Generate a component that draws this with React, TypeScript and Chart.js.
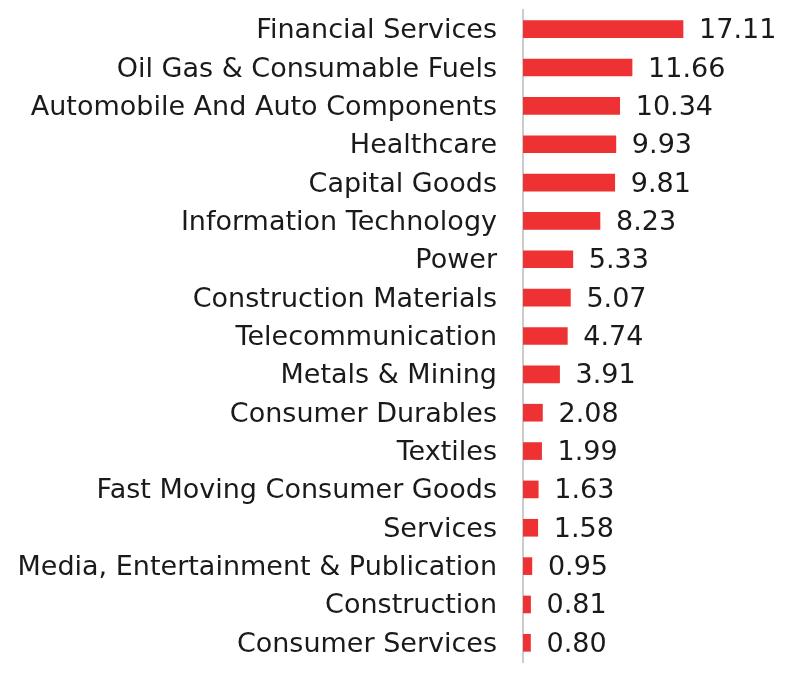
import React, { useEffect, useRef } from "react";
import { Chart, registerables } from "chart.js";

Chart.register(...registerables);

const categories = [
  "Financial Services",
  "Oil Gas & Consumable Fuels",
  "Automobile And Auto Components",
  "Healthcare",
  "Capital Goods",
  "Information Technology",
  "Power",
  "Construction Materials",
  "Telecommunication",
  "Metals & Mining",
  "Consumer Durables",
  "Textiles",
  "Fast Moving Consumer Goods",
  "Services",
  "Media, Entertainment & Publication",
  "Construction",
  "Consumer Services",
];

const values = [17.11, 11.66, 10.34, 9.93, 9.81, 8.23, 5.33, 5.07, 4.74, 3.91, 2.08, 1.99, 1.63, 1.58, 0.95, 0.81, 0.8];

const FONT = "'DejaVu Sans', sans-serif";

const valueLabels = {
  id: "valueLabels",
  afterDatasetsDraw(chart: any) {
    const ctx = chart.ctx;
    const meta = chart.getDatasetMeta(0);
    ctx.save();
    ctx.font = `27px ${FONT}`;
    ctx.fillStyle = "#1a1a1a";
    ctx.textAlign = "left";
    ctx.textBaseline = "middle";
    meta.data.forEach((bar: any, i: number) => {
      ctx.fillText(values[i].toFixed(2), bar.x + 16, bar.y + 2);
    });
    ctx.restore();
  },
};

export default function App() {
  const ref = useRef<HTMLCanvasElement>(null);
  useEffect(() => {
    document.body.style.margin = "0";
    const chart = new Chart(ref.current!, {
      type: "bar",
      data: {
        labels: categories,
        datasets: [
          {
            data: values,
            backgroundColor: "#ee3233",
            barThickness: 17,
          },
        ],
      },
      options: {
        indexAxis: "y",
        animation: false,
        responsive: false,
        layout: { padding: { top: 10, bottom: 13, right: 10, left: 0 } },
        plugins: { legend: { display: false }, tooltip: { enabled: false } },
        scales: {
          x: { display: false, min: 0, max: 27.8 },
          y: {
            afterFit: (s: any) => {
              s.width = 523;
              s.paddingTop = 0;
              s.paddingBottom = 0;
            },
            grid: { display: false, drawTicks: false },
            border: { display: true, color: "#cccccc", width: 2 },
            ticks: {
              padding: 26,
              labelOffset: 2,
              color: "#1a1a1a",
              font: { family: FONT, size: 27 },
            },
          },
        },
      },
      plugins: [valueLabels],
    });
    return () => chart.destroy();
  }, []);
  return (
    <div style={{ width: 793, height: 675 }}>
      <canvas ref={ref} width={793} height={675} />
    </div>
  );
}
